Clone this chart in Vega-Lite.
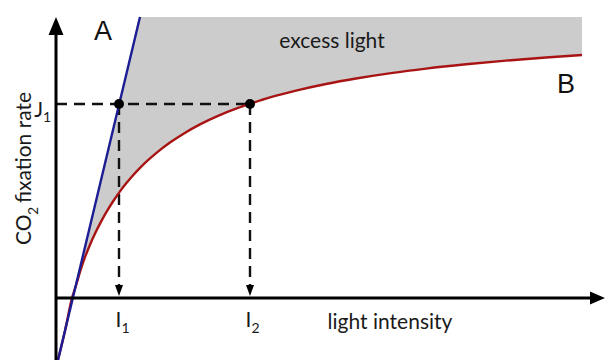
{
  "$schema": "https://vega.github.io/schema/vega-lite/v6.json",
  "width": 605,
  "height": 360,
  "autosize": {"type": "none"},
  "padding": 0,
  "background": "white",
  "config": {"view": {"stroke": null}},
  "datasets": {
    "curve": [
      {"light": 2, "rate": -62, "ceiling": -62},
      {"light": 9, "rate": -32.7, "ceiling": -32.7},
      {"light": 16, "rate": 0, "ceiling": 0},
      {"light": 20, "rate": 12.5, "ceiling": 13.2},
      {"light": 24, "rate": 26, "ceiling": 30},
      {"light": 29, "rate": 40.8, "ceiling": 50.9},
      {"light": 34, "rate": 53.3, "ceiling": 71.8},
      {"light": 40, "rate": 66.4, "ceiling": 96.8},
      {"light": 46, "rate": 78.1, "ceiling": 121.9},
      {"light": 52, "rate": 88.6, "ceiling": 147},
      {"light": 58, "rate": 98, "ceiling": 172.1},
      {"light": 64, "rate": 106.6, "ceiling": 197.2},
      {"light": 70, "rate": 114.4, "ceiling": 222.2},
      {"light": 76, "rate": 121.5, "ceiling": 247.3},
      {"light": 84, "rate": 130.1, "ceiling": 281},
      {"light": 92, "rate": 137.8, "ceiling": 281},
      {"light": 102, "rate": 146.4, "ceiling": 281},
      {"light": 114, "rate": 155.5, "ceiling": 281},
      {"light": 128, "rate": 164.6, "ceiling": 281},
      {"light": 144, "rate": 173.6, "ceiling": 281},
      {"light": 162, "rate": 182.1, "ceiling": 281},
      {"light": 182, "rate": 190.1, "ceiling": 281},
      {"light": 194, "rate": 194.2, "ceiling": 281},
      {"light": 214, "rate": 200.6, "ceiling": 281},
      {"light": 240, "rate": 207.4, "ceiling": 281},
      {"light": 270, "rate": 214, "ceiling": 281},
      {"light": 300, "rate": 219.5, "ceiling": 281},
      {"light": 335, "rate": 224.9, "ceiling": 281},
      {"light": 370, "rate": 229.4, "ceiling": 281},
      {"light": 410, "rate": 233.7, "ceiling": 281},
      {"light": 450, "rate": 237.4, "ceiling": 281},
      {"light": 490, "rate": 240.5, "ceiling": 281},
      {"light": 526, "rate": 243, "ceiling": 281}
    ],
    "initialSlope": [
      {"light": 2, "rate": -62},
      {"light": 84, "rate": 281}
    ],
    "guides": [
      {"light": 0, "rate": 194, "light2": 194, "rate2": 194},
      {"light": 63, "rate": 194, "light2": 63, "rate2": 11},
      {"light": 194, "rate": 194, "light2": 194, "rate2": 11}
    ],
    "points": [
      {"light": 63, "rate": 194},
      {"light": 194, "rate": 194}
    ],
    "axesLines": [
      {"light": 0, "rate": -62, "light2": 0, "rate2": 268},
      {"light": 0, "rate": 0, "light2": 536, "rate2": 0}
    ],
    "guideArrows": [
      {"light": 63, "rate": 7.5},
      {"light": 194, "rate": 7.5}
    ],
    "symbols": [
      {"light": -13, "rate": 181, "text": "J"},
      {"light": 65.5, "rate": -29, "text": "I"},
      {"light": 195.5, "rate": -29, "text": "I"}
    ],
    "subscripts": [
      {"light": -13, "rate": 176, "text": "1"},
      {"light": 65.5, "rate": -35, "text": "1"},
      {"light": 195.5, "rate": -35, "text": "2"}
    ],
    "labels": [
      {"light": 334, "rate": -25, "text": "light intensity"},
      {"light": 276, "rate": 256, "text": "excess light"}
    ],
    "curveNames": [
      {"light": 47, "rate": 266, "text": "A"},
      {"light": 510, "rate": 213, "text": "B"}
    ],
    "yTitle": [
      {"light": -25, "rate": 53, "text": "CO"},
      {"light": -25, "rate": 95, "text": "fixation rate"}
    ],
    "yTitleSub": [
      {"light": -18, "rate": 83, "text": "2"}
    ]
  },
  "encoding": {
    "x": {"field": "light", "type": "quantitative", "axis": null,
          "scale": {"domain": [-56, 549], "nice": false, "zero": false}},
    "y": {"field": "rate", "type": "quantitative", "axis": null,
          "scale": {"domain": [-62, 298], "nice": false, "zero": false}}
  },
  "layer": [
    {
      "data": {"name": "curve"},
      "mark": {"type": "area", "color": "#cccccc", "opacity": 1, "interpolate": "monotone"},
      "encoding": {
        "y": {"field": "ceiling", "type": "quantitative"},
        "y2": {"field": "rate"}
      }
    },
    {
      "data": {"name": "guides"},
      "mark": {"type": "rule", "color": "#111111", "strokeWidth": 2.4, "strokeDash": [11, 7]},
      "encoding": {
        "x2": {"field": "light2"},
        "y2": {"field": "rate2"}
      }
    },
    {
      "data": {"name": "curve"},
      "mark": {"type": "line", "color": "#a81414", "strokeWidth": 2.4, "interpolate": "monotone"},
      "encoding": {}
    },
    {
      "data": {"name": "initialSlope"},
      "mark": {"type": "line", "color": "#1c1c94", "strokeWidth": 2.4},
      "encoding": {}
    },
    {
      "data": {"name": "axesLines"},
      "mark": {"type": "rule", "color": "#000000", "strokeWidth": 3},
      "encoding": {
        "x2": {"field": "light2"},
        "y2": {"field": "rate2"}
      }
    },
    {
      "data": {"values": [{"light": 0, "rate": 272}]},
      "mark": {"type": "point", "shape": "M0,-1L0.83,1L-0.83,1Z", "size": 324, "filled": true, "color": "#000000", "opacity": 1}
    },
    {
      "data": {"values": [{"light": 541.5, "rate": 0}]},
      "mark": {"type": "point", "shape": "M1,0L-1,-0.87L-1,0.87Z", "size": 225, "filled": true, "color": "#000000", "opacity": 1}
    },
    {
      "data": {"name": "guideArrows"},
      "mark": {"type": "point", "shape": "M0,1L-0.73,-1L0.73,-1Z", "size": 121, "filled": true, "color": "#000000", "opacity": 1}
    },
    {
      "data": {"name": "points"},
      "mark": {"type": "point", "shape": "circle", "size": 100, "filled": true, "color": "#000000", "opacity": 1}
    },
    {
      "data": {"name": "symbols"},
      "mark": {"type": "text", "font": "Lato", "fontSize": 21, "color": "#1a1a1a", "align": "right", "baseline": "alphabetic"},
      "encoding": {"text": {"field": "text"}}
    },
    {
      "data": {"name": "subscripts"},
      "mark": {"type": "text", "font": "Lato", "fontSize": 14, "color": "#1a1a1a", "align": "left", "baseline": "alphabetic"},
      "encoding": {"text": {"field": "text"}}
    },
    {
      "data": {"name": "labels"},
      "mark": {"type": "text", "font": "Lato", "fontSize": 21, "color": "#1a1a1a", "align": "center", "baseline": "middle"},
      "encoding": {"text": {"field": "text"}}
    },
    {
      "data": {"name": "curveNames"},
      "mark": {"type": "text", "font": "Liberation Sans", "fontSize": 27, "color": "#111111", "align": "center", "baseline": "middle"},
      "encoding": {"text": {"field": "text"}}
    },
    {
      "data": {"name": "yTitle"},
      "mark": {"type": "text", "font": "Lato", "fontSize": 21, "color": "#1a1a1a", "align": "left", "baseline": "alphabetic", "angle": 270},
      "encoding": {"text": {"field": "text"}}
    },
    {
      "data": {"name": "yTitleSub"},
      "mark": {"type": "text", "font": "Lato", "fontSize": 14, "color": "#1a1a1a", "align": "left", "baseline": "alphabetic", "angle": 270},
      "encoding": {"text": {"field": "text"}}
    }
  ]
}
